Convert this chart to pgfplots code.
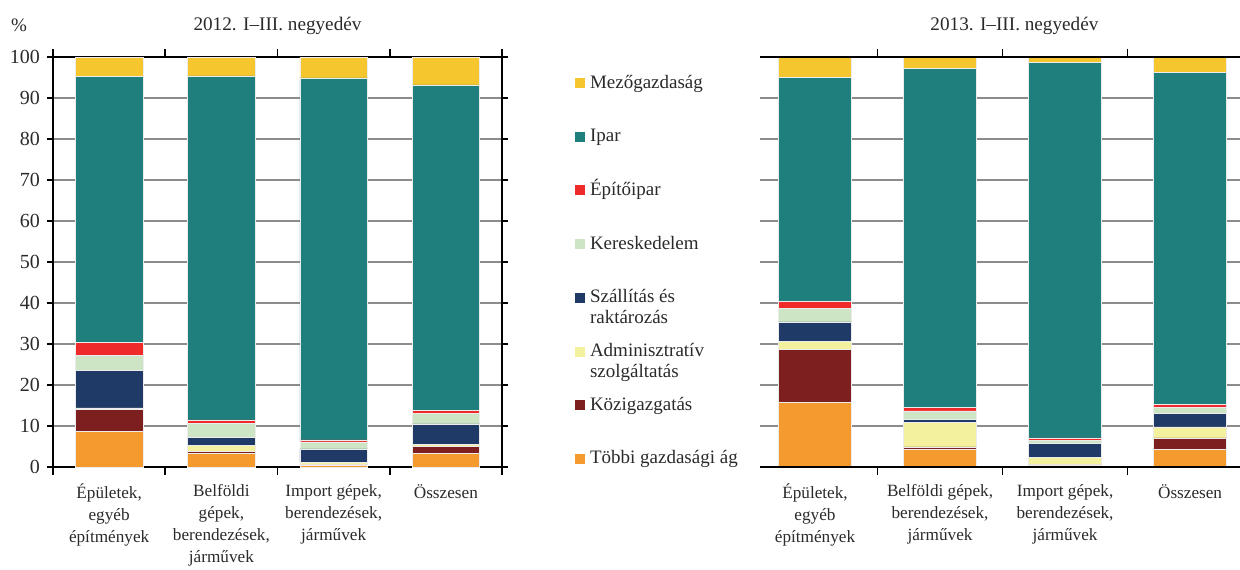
\documentclass[border=0pt]{standalone}
\usepackage{fontspec}
\setmainfont{Liberation Serif}
\usepackage{pgfplots}
\usepackage{pgfplotstable}
\pgfplotsset{compat=1.18}

\definecolor{cMezo}{HTML}{F5C62D}
\definecolor{cIpar}{HTML}{1E7F7D}
\definecolor{cEpito}{HTML}{EE2A2A}
\definecolor{cKeresk}{HTML}{CDE5C5}
\definecolor{cSzall}{HTML}{203A67}
\definecolor{cAdmin}{HTML}{F3F09E}
\definecolor{cKozig}{HTML}{7E1F1F}
\definecolor{cTobbi}{HTML}{F49A2F}
\definecolor{cGrid}{HTML}{8C8C8C}
\definecolor{cText}{HTML}{2A2A2A}

% 2012. I-III. negyedev
\pgfplotstableread{
x Tobbi Kozig Admin Szall Keresk Epito Ipar Mezo
0 8.6 5.5 0.3 9.1 3.8 3.1 64.8 4.8
1 3.3 0.6 1.3 2.0 3.4 0.9 83.9 4.6
2 0.5 0.1 0.5 3.3 1.7 0.5 88.3 5.1
3 3.4 1.6 0.5 5.0 2.5 0.9 79.3 6.8
}\tabA

% 2013. I-III. negyedev
\pgfplotstableread{
x Tobbi Kozig Admin Szall Keresk Epito Ipar Mezo
0 15.8 12.9 2.0 4.7 3.3 1.7 54.6 5.0
1 4.3 0.6 5.9 0.9 2.0 0.8 82.7 2.8
2 0.5 0.1 1.8 3.3 0.7 0.7 91.5 1.4
3 4.3 2.8 2.7 3.3 1.4 0.8 80.9 3.8
}\tabB

\pgfplotsset{
  mybars/.style={
    ybar stacked,
    scale only axis,
    height=205pt,
    ymin=0, ymax=100,
    ytick={0,10,...,100},
    ymajorgrids,
    grid style={color=cGrid, line width=0.9pt},
    xtick={0,1,2,3},
    tick align=outside,
    major tick length=3pt,
    minor tick length=4pt,
    major x tick style={draw=none},
    minor x tick style={draw=black, line width=0.8pt},
    major y tick style={draw=black, line width=0.8pt},
    axis line style={black, line width=1.1pt},
    /pgf/number format/assume math mode=true,
    yticklabel style={font=\fontsize{10}{12}\selectfont, text=cText},
    xticklabel style={font=\fontsize{8.6}{11}\selectfont, align=center, text=cText, yshift=-2pt},
    title style={font=\fontsize{9.6}{11}\selectfont, text=cText, anchor=south, yshift=1.5pt},
    every axis plot/.append style={draw=white!85!gray, line width=0.3pt},
  },
  mylegend/.style={
    reverse legend,
    legend cell align=left,
    legend image code/.code={\fill[##1,draw=none] (0pt,-2.5pt) rectangle (5pt,2.5pt);},
    legend style={draw=none, fill=none, inner sep=0pt, outer sep=0pt,
      at={(1.1626,0.9585)}, anchor=north west,
      row sep=17.85pt, column sep=2.5pt,
      nodes={inner sep=0pt, text height=7pt, text depth=2pt, text=cText,
             font=\fontsize{9.5}{10.5}\selectfont}},
  },
}

\newcommand{\twoline}[2]{\raisebox{0pt}[\height][0pt]{\begin{tabular}[t]{@{}l@{}}#1\\#2\end{tabular}}}

\begin{document}
\begin{tikzpicture}
\begin{axis}[mybars, mylegend,
  at={(26.5pt,51pt)}, anchor=south west,
  width=224.5pt,
  xmin=-0.5, xmax=3.5,
  bar width=0.6,
  minor xtick={-0.5,0.5,1.5,2.5,3.5},
  xticklabels={{Épületek,\\egyéb\\építmények},{Belföldi\\gépek,\\berendezések,\\járművek},{Import gépek,\\berendezések,\\járművek},{Összesen}},
  title={2012. I--III. negyedév},
  extra description/.code={\node[font=\fontsize{9.5}{11}\selectfont, text=cText] at (-0.0757,1.078) {\%};},
]
\addplot[fill=cTobbi] table[x=x, y=Tobbi] {\tabA};
\addlegendentry{Többi gazdasági ág}
\addplot[fill=cKozig] table[x=x, y=Kozig] {\tabA};
\addlegendentry{Közigazgatás}
\addplot[fill=cAdmin] table[x=x, y=Admin] {\tabA};
\addlegendentry{\twoline{Adminisztratív}{szolgáltatás}}
\addplot[fill=cSzall] table[x=x, y=Szall] {\tabA};
\addlegendentry{\twoline{Szállítás és}{raktározás}}
\addplot[fill=cKeresk] table[x=x, y=Keresk] {\tabA};
\addlegendentry{Kereskedelem}
\addplot[fill=cEpito] table[x=x, y=Epito] {\tabA};
\addlegendentry{Építőipar}
\addplot[fill=cIpar] table[x=x, y=Ipar] {\tabA};
\addlegendentry{Ipar}
\addplot[fill=cMezo] table[x=x, y=Mezo] {\tabA};
\addlegendentry{Mezőgazdaság}
\end{axis}

\begin{axis}[mybars,
  at={(380pt,51pt)}, anchor=south west,
  width=240pt,
  xmin=-0.44, xmax=3.4,
  bar width=0.584,
  minor xtick={0.5,1.5,2.5},
  yticklabels={},
  major y tick style={draw=none},
  axis line style={draw=none},
  xticklabels={{Épületek,\\egyéb\\építmények},{Belföldi gépek,\\berendezések,\\járművek},{Import gépek,\\berendezések,\\járművek},{Összesen}},
  title={2013. I--III. negyedév},
  title style={at={(0.53,1)}},
  after end axis/.code={
    \draw[black, line width=1.1pt] (rel axis cs:0,0) -- (rel axis cs:1,0);
    \draw[black, line width=1.1pt] (rel axis cs:0,1) -- (rel axis cs:1,1);
  },
]
\addplot[fill=cTobbi] table[x=x, y=Tobbi] {\tabB};
\addplot[fill=cKozig] table[x=x, y=Kozig] {\tabB};
\addplot[fill=cAdmin] table[x=x, y=Admin] {\tabB};
\addplot[fill=cSzall] table[x=x, y=Szall] {\tabB};
\addplot[fill=cKeresk] table[x=x, y=Keresk] {\tabB};
\addplot[fill=cEpito] table[x=x, y=Epito] {\tabB};
\addplot[fill=cIpar] table[x=x, y=Ipar] {\tabB};
\addplot[fill=cMezo] table[x=x, y=Mezo] {\tabB};
\end{axis}
\pgfresetboundingbox
\path (0pt,0pt) rectangle (620pt,284.5pt);
\end{tikzpicture}
\end{document}
